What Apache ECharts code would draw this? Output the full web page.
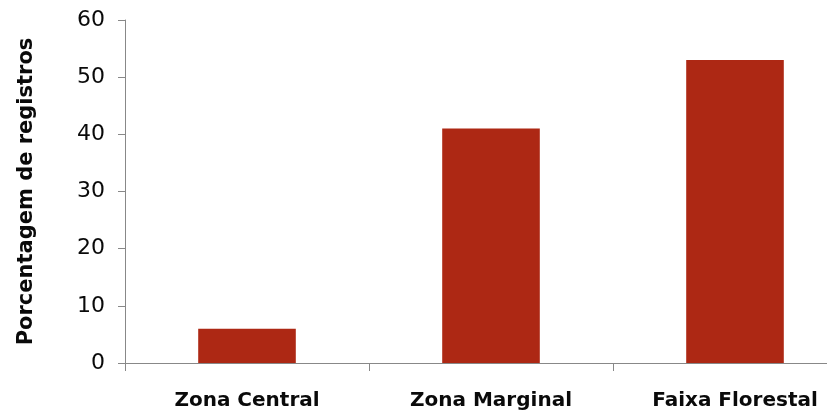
<!DOCTYPE html>
<html>
<head>
<meta charset="utf-8">
<script src="https://cdn.jsdelivr.net/npm/echarts@6/dist/echarts.min.js"></script>
<style>html,body{margin:0;padding:0;background:#fff;overflow:hidden;}#chart{width:860px;height:414px;}</style>
</head>
<body>
<div id="chart"></div>
<script>
const categories = ["Zona Central", "Zona Marginal", "Faixa Florestal"];
const values = [6, 41, 53];
const yTicks = [0, 10, 20, 30, 40, 50, 60];
const yAxisName = "Porcentagem de registros";

const chart = echarts.init(document.getElementById('chart'), null, {renderer: 'canvas'});
chart.setOption({
  animation: false,
  backgroundColor: '#ffffff',
  grid: {left: 125, top: 20, width: 732, height: 343, containLabel: false},
  xAxis: {
    type: 'category',
    data: categories,
    boundaryGap: true,
    axisLine: {lineStyle: {color: '#888888', width: 1}},
    axisTick: {show: true, length: 8, lineStyle: {color: '#888888'}},
    axisLabel: {
      fontFamily: 'DejaVu Sans', fontWeight: 'bold', fontSize: 20,
      color: '#0a0a0a', margin: 28
    }
  },
  yAxis: {
    type: 'value',
    min: yTicks[0], max: yTicks[yTicks.length - 1], interval: 10,
    name: yAxisName,
    nameLocation: 'middle',
    nameRotate: 90,
    nameGap: 88,
    nameTextStyle: {fontFamily: 'DejaVu Sans', fontWeight: 'bold', fontSize: 21, color: '#0a0a0a'},
    axisLine: {show: true, lineStyle: {color: '#888888', width: 1}},
    axisTick: {show: true, length: 7, lineStyle: {color: '#888888'}},
    splitLine: {show: false},
    axisLabel: {fontFamily: 'DejaVu Sans', fontSize: 22, color: '#0a0a0a', margin: 20}
  },
  series: [{
    type: 'bar',
    data: values,
    barWidth: '40%',
    itemStyle: {color: '#AD2814'}
  }]
});
</script>
</body>
</html>
